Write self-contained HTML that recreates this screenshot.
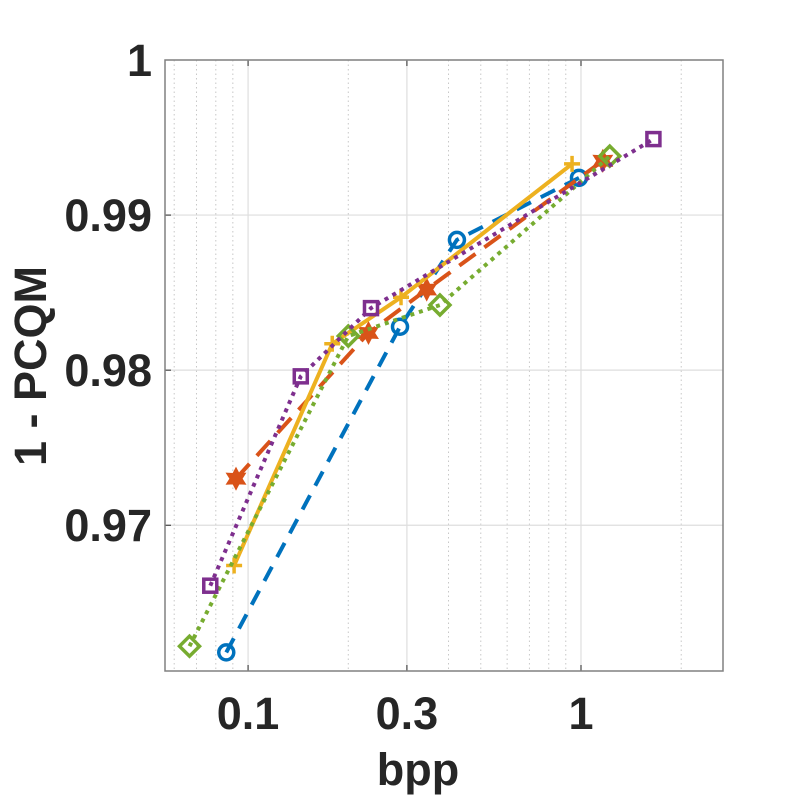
<!DOCTYPE html>
<html><head><meta charset="utf-8"><style>
body{margin:0;background:#fff;}
svg text{font-family:"Liberation Sans",Arial,sans-serif;font-weight:bold;fill:#262626;}
</style></head><body>
<svg id="chart" width="800" height="800" xmlns="http://www.w3.org/2000/svg"></svg>
<script>
const xTicks=[0.1,0.3,1];
const xTickLabels=["0.1","0.3","1"];
const yTicks=[0.97,0.98,0.99,1];
const yTickLabels=["0.97","0.98","0.99","1"];
const blueX=[0.086,0.286,0.424,0.986];
const blueY=[0.9618,0.9828,0.9884,0.9924];
const redX=[0.092,0.230,0.344,1.163];
const redY=[0.9730,0.9824,0.9852,0.9935];
const yellowX=[0.0908,0.179,0.288,0.940];
const yellowY=[0.9674,0.9817,0.9847,0.9933];
const greenX=[0.0667,0.200,0.377,1.22];
const greenY=[0.9622,0.9822,0.9842,0.9938];
const purpleX=[0.0770,0.144,0.234,1.65];
const purpleY=[0.9661,0.9796,0.9840,0.9949];

const L=165,R=723,T=60,B=671;
const xMin=0.0563,xMax=2.67,yMin=0.9606,yMax=1;
const lx=v=>L+(Math.log10(v)-Math.log10(xMin))/(Math.log10(xMax)-Math.log10(xMin))*(R-L);
const ly=v=>B-(v-yMin)/(yMax-yMin)*(B-T);
const svg=document.getElementById('chart');
const NS="http://www.w3.org/2000/svg";
function mk(tag,attrs,parent){const e=document.createElementNS(NS,tag);for(const k in attrs)e.setAttribute(k,attrs[k]);(parent||svg).appendChild(e);return e;}

const minors=[0.06,0.07,0.08,0.09,0.2,0.4,0.5,0.6,0.7,0.8,0.9,2];
minors.forEach(v=>{const l=mk('line',{x1:lx(v),x2:lx(v),y1:T,y2:B,stroke:'#c8c8c8','stroke-width':1,'stroke-dasharray':'1.5,3'});

});
xTicks.forEach((v,i)=>{const l=mk('line',{x1:lx(v),x2:lx(v),y1:T,y2:B,stroke:'#dedede','stroke-width':1.2});


const t=mk('text',{x:lx(v),y:729,'font-size':45,'text-anchor':'middle'});t.textContent=xTickLabels[i];


mk('line',{x1:lx(v),x2:lx(v),y1:B,y2:B-6,stroke:'#262626'});mk('line',{x1:lx(v),x2:lx(v),y1:T,y2:T+6,stroke:'#262626'});});
yTicks.forEach((v,i)=>{const l=mk('line',{x1:L,x2:R,y1:ly(v),y2:ly(v),stroke:'#dedede','stroke-width':1.2});


const t=mk('text',{x:152,y:ly(v)+16,'font-size':45,'text-anchor':'end'});t.textContent=yTickLabels[i];


mk('line',{x1:L,x2:L+6,y1:ly(v),y2:ly(v),stroke:'#262626'});});
const box=mk('rect',{x:L,y:T,width:R-L,height:B-T,fill:'none',stroke:'#808080','stroke-width':1.5});



function series(xs,ys,color,dash,marker,name){
  const g=mk('g',{});
  
  
  const pts=xs.map((x,i)=>lx(x)+','+ly(ys[i])).join(' ');
  mk('polyline',{points:pts,fill:'none',stroke:color,'stroke-width':4,'stroke-dasharray':dash},g);
  xs.forEach((x,i)=>{const cx=lx(x),cy=ly(ys[i]);let m;
    if(marker==='o')m=mk('circle',{cx,cy,r:7.5,fill:'none',stroke:color,'stroke-width':3.5},g);
    else if(marker==='s')m=mk('rect',{x:cx-6.5,y:cy-6.5,width:13,height:13,fill:'none',stroke:color,'stroke-width':3.5},g);
    else if(marker==='d')m=mk('polygon',{points:`${cx},${cy-10} ${cx+10},${cy} ${cx},${cy+10} ${cx-10},${cy}`,fill:'none',stroke:color,'stroke-width':3.5},g);
    else if(marker==='+')m=mk('path',{d:`M${cx-8},${cy}H${cx+8}M${cx},${cy-8}V${cy+8}`,stroke:color,'stroke-width':3.5},g);
    else if(marker==='h'){const r=11,r2=6;let p=[];for(let k=0;k<12;k++){const a=Math.PI/6*k-Math.PI/2;const rr=k%2?r2:r;p.push((cx+rr*Math.cos(a))+','+(cy+rr*Math.sin(a)));}
      m=mk('polygon',{points:p.join(' '),fill:color,stroke:color,'stroke-width':1},g);}
    
    
  });
}
series(blueX,blueY,'#0072BD','16,11','o','series-blue');
series(redX,redY,'#D95319','20,11','h','series-red');
series(yellowX,yellowY,'#EDB120','none','+','series-yellow');
series(greenX,greenY,'#77AC30','4,5','d','series-green');
series(purpleX,purpleY,'#7E2F8E','4,5','s','series-purple');
</script>
<svg style="position:absolute;left:0;top:0" width="800" height="800">
<text x="418" y="785" font-size="45" text-anchor="middle" style="font-family:'Liberation Sans',sans-serif;font-weight:bold;fill:#262626">bpp</text>
<text x="46" y="366" font-size="45" text-anchor="middle" transform="rotate(-90 46 366)" style="font-family:'Liberation Sans',sans-serif;font-weight:bold;fill:#262626">1 - PCQM</text>
</svg>
</body></html>
